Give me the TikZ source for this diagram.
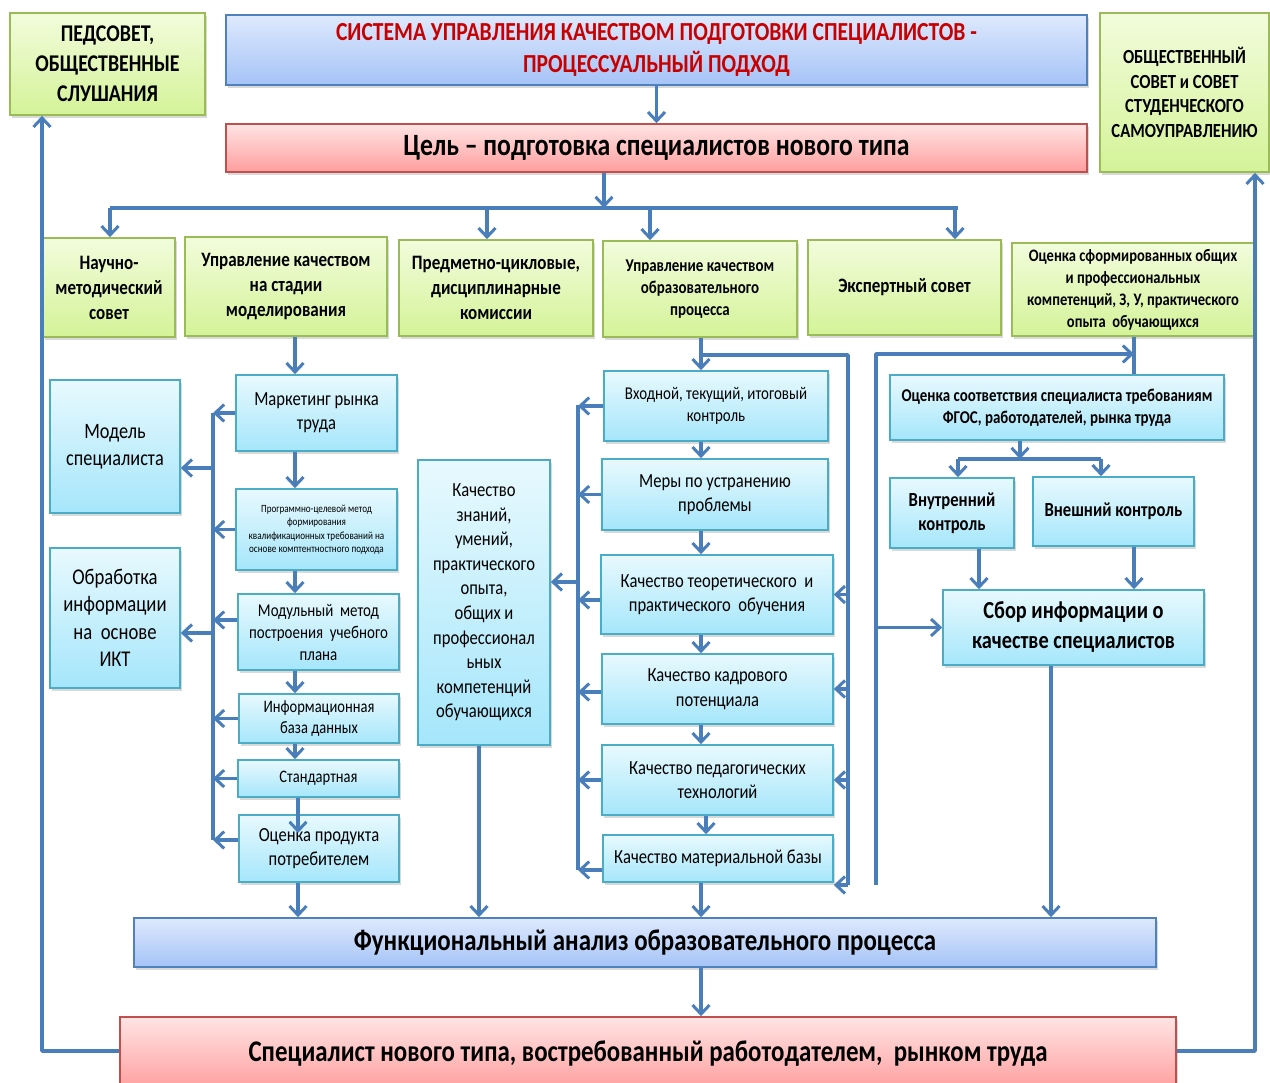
\documentclass[tikz,border=0pt]{standalone}
\usepackage{fontspec}
\setmainfont[FakeStretch=0.83]{Carlito}
\usetikzlibrary{arrows.meta,shadows,calc}
\definecolor{arrc}{RGB}{74,126,187}
\definecolor{gtop}{RGB}{242,252,220}
\definecolor{gbot}{RGB}{212,243,152}
\definecolor{gbrd}{RGB}{155,187,89}
\definecolor{ctop}{RGB}{232,249,254}
\definecolor{cbot}{RGB}{165,230,251}
\definecolor{cbrd}{RGB}{75,172,198}
\definecolor{btop}{RGB}{222,233,253}
\definecolor{bbot}{RGB}{165,195,247}
\definecolor{bbrd}{RGB}{79,129,189}
\definecolor{rtop}{RGB}{255,228,228}
\definecolor{rbot}{RGB}{255,158,158}
\definecolor{rbrd}{RGB}{192,80,77}
\definecolor{ttl}{RGB}{200,0,0}
\newcommand\fsz[2]{\fontsize{#1}{#2}\selectfont}
\newcommand\bx[7]{\node[#6,minimum width={#4pt-#2pt},minimum height={#5pt-#3pt}] (#1) at ({(#2+#4)/2},{(#3+#5)/2}) {#7};}
\begin{document}
\begin{tikzpicture}[x=1pt,y=-1pt,
 base/.style={rectangle,inner sep=0pt,align=center,line width=1.6pt,drop shadow={shadow xshift=2pt,shadow yshift=-3pt,opacity=0.3}},
 gbox/.style={base,draw=gbrd,top color=gtop,bottom color=gbot},
 cbox/.style={base,draw=cbrd,top color=ctop,bottom color=cbot},
 bbox/.style={base,draw=bbrd,top color=btop,bottom color=bbot},
 rbox/.style={base,draw=rbrd,top color=rtop,bottom color=rbot},
 arr/.style={draw=arrc,line width=3.5pt,line join=round,-{Straight Barb[length=9pt,width=17pt,line width=3pt]}},
 ln/.style={draw=arrc,line width=3.5pt,line join=round}]
\useasboundingbox (0,0) rectangle (1270,1083);
% top
\bx{psov}{10}{13}{205}{115}{gbox,font=\bfseries\fsz{24}{30}}{ПЕДСОВЕТ,\\ОБЩЕСТВЕННЫЕ\\СЛУШАНИЯ}
\bx{title}{226}{15}{1087}{85}{bbox,font=\bfseries\fsz{26}{32},text=ttl}{СИСТЕМА УПРАВЛЕНИЯ КАЧЕСТВОМ ПОДГОТОВКИ СПЕЦИАЛИСТОВ -\\ПРОЦЕССУАЛЬНЫЙ ПОДХОД}
\bx{obs}{1100}{13}{1269}{172}{gbox,font=\bfseries\fsz{20}{24.5}}{ОБЩЕСТВЕННЫЙ\\СОВЕТ и СОВЕТ\\СТУДЕНЧЕСКОГО\\САМОУПРАВЛЕНИЮ}
\bx{goal}{226}{124}{1087}{172}{rbox,font=\bfseries\fsz{31}{36}}{Цель – подготовка специалистов нового типа}
% second row
\bx{nms}{43}{238}{175}{337}{gbox,font=\bfseries\fsz{20.5}{25}}{Научно-\\методический\\совет}
\bx{umod}{185}{237}{387}{336}{gbox,font=\bfseries\fsz{20.5}{25}}{Управление качеством\\на стадии\\моделирования}
\bx{pck}{399}{240}{593}{336}{gbox,font=\bfseries\fsz{20.5}{25}}{Предметно-цикловые,\\дисциплинарные\\комиссии}
\bx{uop}{603}{241}{797}{337}{gbox,font=\bfseries\fsz{18}{22}}{Управление качеством\\образовательного\\процесса}
\bx{eks}{808}{240}{1001}{335}{gbox,font=\bfseries\fsz{20.5}{25}}{Экспертный совет}
\bx{osf}{1012}{243}{1254}{336}{gbox,font=\bfseries\fsz{17.5}{22}}{Оценка сформированных общих\\и профессиональных\\компетенций, З, У, практического\\опыта~~обучающихся}
% model column
\bx{mark}{236}{375}{397}{451}{cbox,font=\fsz{20}{24}}{Маркетинг рынка\\труда}
\bx{prog}{236}{489}{397}{570}{cbox,font=\fsz{11}{13.5}}{Программно-целевой метод\\формирования\\квалификационных требований на\\основе комптентностного подхода}
\bx{modm}{238}{594}{399}{670}{cbox,font=\fsz{18}{22}}{Модульный~~метод\\построения~~учебного\\плана}
\bx{infb}{239}{694}{399}{743}{cbox,font=\fsz{17.5}{21}}{Информационная\\база данных}
\bx{std}{238}{760}{399}{797}{cbox,font=\fsz{17.5}{21}}{Стандартная}
\bx{ocp}{239}{815}{399}{882}{cbox,font=\fsz{20}{24}}{Оценка продукта\\потребителем}
\bx{model}{50}{380}{180}{513}{cbox,font=\fsz{22}{27}}{Модель\\специалиста}
\bx{obr}{50}{548}{180}{688}{cbox,font=\fsz{22.5}{27.5}}{Обработка\\информации\\на~~основе\\ИКТ}
\bx{kz}{418}{460}{550}{745}{cbox,font=\fsz{20}{24.6}}{Качество\\знаний,\\умений,\\практического\\опыта,\\общих и\\профессионал\\ьных\\компетенций\\обучающихся}
% process column
\bx{vh}{604}{371}{828}{441}{cbox,font=\fsz{18}{22}}{Входной, текущий, итоговый\\контроль}
\bx{mery}{602}{459}{828}{530}{cbox,font=\fsz{20}{24}}{Меры по устранению\\проблемы}
\bx{teor}{601}{555}{833}{634}{cbox,font=\fsz{20}{24.5}}{Качество теоретического~ и\\практического~ обучения}
\bx{kadr}{602}{654}{833}{724}{cbox,font=\fsz{20}{24.5}}{Качество кадрового\\потенциала}
\bx{pedt}{602}{745}{833}{815}{cbox,font=\fsz{20}{24.5}}{Качество педагогических\\технологий}
\bx{mat}{603}{835}{833}{882}{cbox,font=\fsz{20}{24.5}}{Качество материальной базы}
% right column
\bx{osoot}{890}{375}{1224}{440}{cbox,font=\bfseries\fsz{18}{22}}{Оценка соответствия специалиста требованиям\\ФГОС, работодателей, рынка труда}
\bx{vnut}{890}{478}{1014}{548}{cbox,font=\bfseries\fsz{20}{24}}{Внутренний\\контроль}
\bx{vnesh}{1033}{477}{1194}{546}{cbox,font=\bfseries\fsz{20}{24}}{Внешний контроль}
\bx{sbor}{943}{590}{1204}{665}{cbox,font=\bfseries\fsz{24.5}{30}}{Сбор информации о\\качестве специалистов}
% bottom
\bx{funk}{134}{918}{1156}{967}{bbox,font=\bfseries\fsz{30}{36}}{Функциональный анализ образовательного процесса}
\bx{spec}{120}{1017}{1176}{1090}{rbox,font=\bfseries\fsz{30}{36}}{Специалист нового типа, востребованный работодателем,~ рынком труда}
% ---------- connectors
\coordinate (bg) at (604,208);
\coordinate (b0) at (110,208);
\coordinate (b1) at (487,208);
\coordinate (b2) at (650,208);
\coordinate (b3) at (955,208);
\coordinate (be) at (958,208);
\draw[arr] (title.south) -- (goal.north);
\draw[arr] (goal.south -| bg) -- (bg);
\draw[ln] (b0) -- (be);
\draw[arr] (b0) -- (b0 |- nms.north);
\draw[arr] (b1) -- (b1 |- pck.north);
\draw[arr] (b2) -- (b2 |- uop.north);
\draw[arr] (b3) -- (b3 |- eks.north);
% model column
\coordinate (mx) at (295,0);
\coordinate (mx2) at (298,0);
\coordinate (ocpin) at (298,833);
\draw[arr] (umod.south -| mx) -- (mark.north -| mx);
\draw[arr] (mark.south -| mx) -- (prog.north -| mx);
\draw[arr] (prog.south -| mx) -- (modm.north -| mx);
\draw[arr] (modm.south -| mx) -- (infb.north -| mx);
\draw[arr] (infb.south -| mx) -- (std.north -| mx);
\draw[arr] (std.south -| mx2) -- (ocpin);
\draw[arr] (ocp.south -| mx2) -- (funk.north -| mx2);
\coordinate (lb1) at (213,413);
\coordinate (lb2) at (213,840);
\coordinate (lm) at (213,468);
\coordinate (lo) at (213,633);
\draw[ln] (lb1) -- (lb2);
\draw[arr] (mark.west) -- (mark.west -| lb1);
\draw[arr] (prog.west) -- (prog.west -| lb1);
\draw[arr] (modm.west |- 0,620) -- (lb1 |- 0,620);
\draw[arr] (infb.west) -- (infb.west -| lb1);
\draw[arr] (std.west) -- (std.west -| lb1);
\draw[arr] (ocp.west |- lb2) -- (lb2);
\draw[arr] (lm) -- (lm -| model.east);
\draw[arr] (lo) -- (lo -| obr.east);
% process column
\coordinate (px) at (701,0);
\coordinate (pr1) at (701,355);
\coordinate (pr2) at (848,355);
\coordinate (pr3) at (848,885);
\draw[arr] (uop.south -| px) -- (vh.north -| px);
\draw[ln] (pr1) -- (pr2) -- (pr3);
\draw[arr] (vh.south -| px) -- (mery.north -| px);
\draw[arr] (mery.south -| px) -- (teor.north -| px);
\draw[arr] (teor.south -| px) -- (kadr.north -| px);
\draw[arr] (kadr.south -| px) -- (pedt.north -| px);
\draw[arr] (pedt.south -| 706,0) -- (mat.north -| 706,0);
\draw[arr] (teor.east -| pr2) -- (teor.east);
\draw[arr] (kadr.east -| pr2) -- (kadr.east);
\draw[arr] (pedt.east -| pr2) -- (pedt.east);
\draw[arr] (pr3) -- (pr3 -| mat.east);
\coordinate (pl1) at (578,405);
\coordinate (pl2) at (578,870);
\coordinate (pk) at (578,582);
\draw[ln] (pl1) -- (pl2);
\draw[arr] (vh.west) -- (vh.west -| pl1);
\draw[arr] (mery.west) -- (mery.west -| pl1);
\draw[arr] (teor.west |- 0,600) -- (pl1 |- 0,600);
\draw[arr] (kadr.west |- 0,692) -- (pl1 |- 0,692);
\draw[arr] (pedt.west) -- (pedt.west -| pl1);
\draw[arr] (mat.west |- pl2) -- (pl2);
\draw[arr] (pk) -- (pk -| kz.east);
\draw[arr] (kz.south -| 479,0) -- (funk.north -| 479,0);
\draw[arr] (mat.south -| px) -- (funk.north -| px);
\draw[arr] (funk.south -| px) -- (spec.north -| px);
% right column
\coordinate (r1) at (876,885);
\coordinate (r2) at (876,354);
\coordinate (r3) at (1134,354);
\draw[arr] (r1) -- (r2) -- (r3);
\draw[ln] (osf.south -| r3) -- (osoot.north -| r3);
\draw[arr] (sbor.west -| r1) -- (sbor.west);
\coordinate (rb0) at (1020,459);
\coordinate (rb1) at (958,459);
\coordinate (rb2) at (1101,459);
\draw[arr] (osoot.south -| rb0) -- (rb0);
\draw[ln] (rb1) -- (rb2);
\draw[arr] (rb1) -- (rb1 |- vnut.north);
\draw[arr] (rb2) -- (rb2 |- vnesh.north);
\draw[arr] (vnut.south -| 979,0) -- (sbor.north -| 979,0);
\draw[arr] (vnesh.south -| 1134,0) -- (sbor.north -| 1134,0);
\draw[arr] (sbor.south -| 1051,0) -- (funk.north -| 1051,0);
% feedback
\coordinate (fl) at (42,1051);
\coordinate (fr) at (1255,1051);
\draw[arr] (spec.west |- fl) -- (fl) -- (fl |- psov.south);
\draw[arr] (spec.east |- fr) -- (fr) -- (fr |- obs.south);
\end{tikzpicture}
\end{document}
